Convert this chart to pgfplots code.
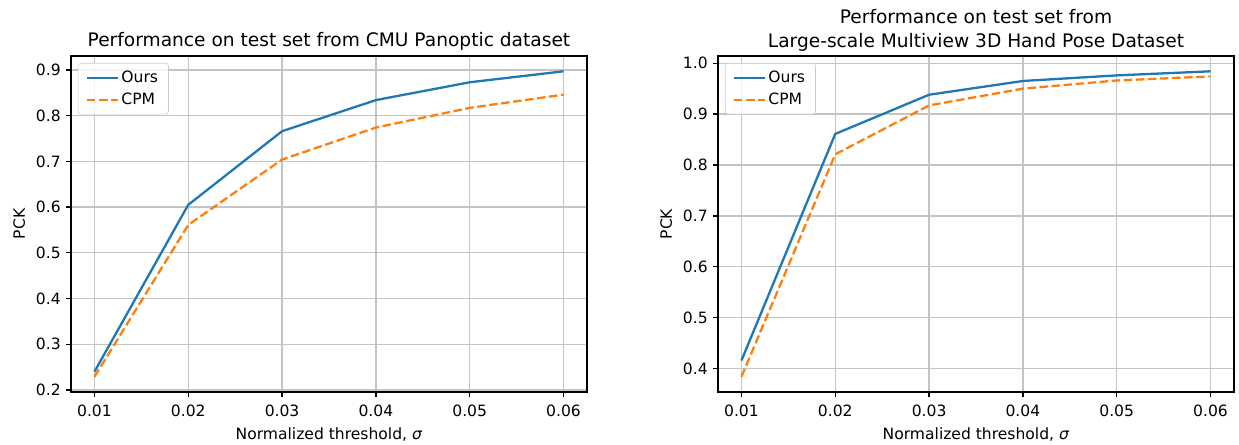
\documentclass[border=0pt]{standalone}
\usepackage{fontspec}
\setmainfont{DejaVu Sans}
\usepackage{pgfplots}
\pgfplotsset{compat=1.18}

\definecolor{mplblue}{HTML}{1F77B4}
\definecolor{mplorange}{HTML}{FF7F0E}
\definecolor{gridgray}{HTML}{C4C4C4}

% shared look of both panels (1px ~ 0.72pt)
\pgfplotsset{
  mpl/.style={
    scale only axis, width=371.5pt, height=241.9pt,
    anchor=south west,
    xmin=0.0075, xmax=0.0625,
    xtick={0.01,0.02,0.03,0.04,0.05,0.06},
    scaled x ticks=false, scaled y ticks=false,
    /pgf/number format/assume math mode=true,
    xticklabel style={yshift=-2pt, /pgf/number format/.cd, fixed, fixed zerofill, precision=2},
    yticklabel style={/pgf/number format/.cd, fixed, fixed zerofill, precision=1},
    tick label style={font=\fontsize{11.2}{13.4}\selectfont},
    label style={font=\fontsize{11.2}{13.4}\selectfont},
    xlabel style={yshift=-1.2pt},
    ylabel shift=1pt,
    title style={font=\fontsize{13.4}{17.2}\selectfont, align=center,
      at={(0.5,1)}, anchor=base, yshift=0.5pt, inner sep=0pt},
    xmajorgrids, ymajorgrids,
    grid style={gridgray, line width=0.9pt},
    axis line style={line width=0.9pt},
    tick align=outside, tick pos=left,
    major tick length=3.9pt,
    tick style={black, line width=0.9pt},
    xlabel={Normalized threshold, \textit{σ}},
    ylabel={PCK},
    legend cell align=left,
    legend style={at={(0,1)}, anchor=north west, xshift=5pt, yshift=-5pt,
      draw=black!20, rounded corners=2pt, fill=white, fill opacity=0.8,
      text opacity=1, font=\fontsize{11.2}{13.4}\selectfont,
      inner xsep=5.5pt, inner ysep=3.5pt, row sep=2pt},
    legend image code/.code={\draw[##1] (0pt,0pt) -- (22pt,0pt);},
  },
  ours/.style={mplblue, line width=1.65pt, no marks},
  cpm/.style={mplorange, line width=1.65pt, no marks, dash pattern=on 6.1pt off 2.6pt},
}

\begin{document}
\begin{tikzpicture}
\useasboundingbox (0,0) rectangle (892.08pt,319.68pt);

% left panel: CMU Panoptic
\begin{axis}[mpl, at={(51.12pt,37.44pt)},
  ymin=0.1956, ymax=0.9304,
  ytick={0.2,0.3,0.4,0.5,0.6,0.7,0.8,0.9},
  title={Performance on test set from CMU Panoptic dataset}]
  \addplot[ours] coordinates {
    (0.01,0.240) (0.02,0.605) (0.03,0.766) (0.04,0.834) (0.05,0.873) (0.06,0.897)};
  \addlegendentry{Ours}
  \addplot[cpm] coordinates {
    (0.01,0.229) (0.02,0.561) (0.03,0.704) (0.04,0.774) (0.05,0.817) (0.06,0.846)};
  \addlegendentry{CPM}
\end{axis}

% right panel: Large-scale Multiview 3D Hand Pose
\begin{axis}[mpl, at={(516.96pt,37.44pt)},
  ymin=0.354, ymax=1.014,
  ytick={0.4,0.5,0.6,0.7,0.8,0.9,1.0},
  title={Performance on test set from\\Large-scale Multiview 3D Hand Pose Dataset}]
  \addplot[ours] coordinates {
    (0.01,0.416) (0.02,0.861) (0.03,0.938) (0.04,0.965) (0.05,0.976) (0.06,0.984)};
  \addlegendentry{Ours}
  \addplot[cpm] coordinates {
    (0.01,0.384) (0.02,0.821) (0.03,0.917) (0.04,0.950) (0.05,0.966) (0.06,0.974)};
  \addlegendentry{CPM}
\end{axis}
\end{tikzpicture}
\end{document}
